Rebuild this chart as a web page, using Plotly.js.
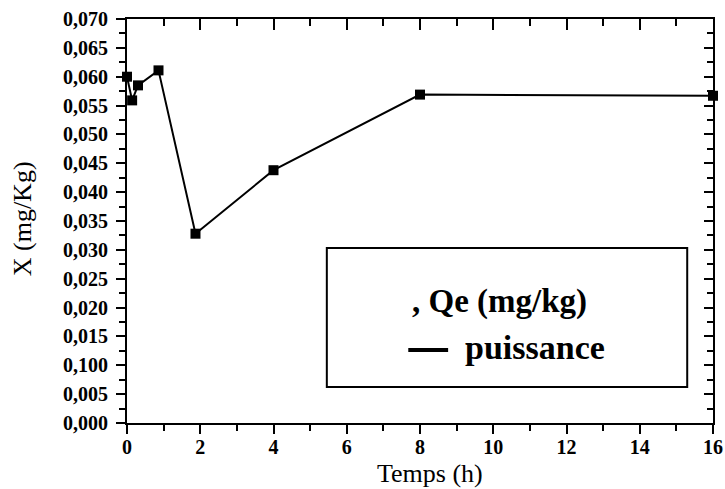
<!DOCTYPE html>
<html>
<head>
<meta charset="utf-8">
<script src="https://cdn.plot.ly/plotly-3.0.1.min.js"></script>
<style>html,body{margin:0;padding:0;background:#fff;}#chart{width:725px;height:489px;}</style>
</head>
<body>
<div id="chart"></div>
<script>
// Data
const temps = [0, 0.14, 0.30, 0.86, 1.87, 4, 8, 16];
const xValues = [0.0600, 0.0559, 0.0585, 0.0611, 0.0328, 0.0438, 0.0569, 0.0567];
const yTickVals = [0, 0.005, 0.010, 0.015, 0.020, 0.025, 0.030, 0.035, 0.040, 0.045, 0.050, 0.055, 0.060, 0.065, 0.070];
const yTickText = ["0,000", "0,005", "0,100", "0,015", "0,020", "0,025", "0,030", "0,035", "0,040", "0,045", "0,050", "0,055", "0,060", "0,065", "0,070"];
const xTickVals = [0, 2, 4, 6, 8, 10, 12, 14, 16];
const xTitle = "Temps (h)";
const yTitle = "X (mg/Kg)";
const legendLine1 = ", Qe (mg/kg)";
const legendLine2 = "puissance";

const serif = "Liberation Serif, Times New Roman, serif";
const tickFont = {family: serif, size: 20, color: "#000", weight: "bold"};

const traces = [
  {
    x: temps, y: xValues, type: "scatter", mode: "lines+markers",
    line: {color: "#000", width: 2},
    marker: {symbol: "square", size: 10, color: "#000"},
    cliponaxis: false, showlegend: false, xaxis: "x", yaxis: "y"
  },
  {
    x: temps, y: xValues, type: "scatter", mode: "markers",
    marker: {opacity: 0, size: 1}, hoverinfo: "skip",
    showlegend: false, xaxis: "x2", yaxis: "y2"
  }
];

const layout = {
  width: 725, height: 489,
  margin: {l: 127, r: 12, t: 19, b: 66},
  paper_bgcolor: "#fff", plot_bgcolor: "#fff",
  showlegend: false,
  xaxis: {
    range: [0, 16], tickmode: "array", tickvals: xTickVals,
    ticktext: xTickVals.map(String),
    ticks: "outside", ticklen: 9, tickwidth: 2, tickcolor: "#000",
    minor: {tickmode: "linear", tick0: 0, dtick: 1, ticks: "outside", ticklen: 6, tickwidth: 2, tickcolor: "#000"},
    showline: true, linecolor: "#000", linewidth: 2,
    showgrid: false, zeroline: false,
    tickfont: tickFont, ticklabelstandoff: -4
  },
  yaxis: {
    range: [0, 0.07], tickmode: "array", tickvals: yTickVals, ticktext: yTickText,
    ticks: "outside", ticklen: 9, tickwidth: 2, tickcolor: "#000",
    minor: {tickmode: "linear", tick0: 0, dtick: 0.0025, ticks: "outside", ticklen: 6, tickwidth: 2, tickcolor: "#000"},
    showline: true, linecolor: "#000", linewidth: 2,
    showgrid: false, zeroline: false,
    tickfont: tickFont, ticklabelstandoff: 4
  },
  xaxis2: {
    overlaying: "x", side: "top", anchor: "y", range: [0, 16],
    tickmode: "linear", tick0: 0, dtick: 2,
    ticks: "inside", ticklen: 11, tickwidth: 2, tickcolor: "#000",
    minor: {tickmode: "linear", tick0: 0, dtick: 1, ticks: "inside", ticklen: 7, tickwidth: 2, tickcolor: "#000"},
    showticklabels: false, showline: true, linecolor: "#000", linewidth: 2,
    showgrid: false, zeroline: false
  },
  yaxis2: {
    overlaying: "y", side: "right", anchor: "x", range: [0, 0.07],
    tickmode: "linear", tick0: 0, dtick: 0.005,
    ticks: "inside", ticklen: 9, tickwidth: 2, tickcolor: "#000",
    minor: {tickmode: "linear", tick0: 0, dtick: 0.0025, ticks: "inside", ticklen: 6, tickwidth: 2, tickcolor: "#000"},
    showticklabels: false, showline: true, linecolor: "#000", linewidth: 2,
    showgrid: false, zeroline: false
  },
  shapes: [
    {type: "rect", xref: "paper", yref: "paper", x0: 0.341, x1: 0.956, y0: 0.089, y1: 0.433,
     line: {color: "#000", width: 2}, fillcolor: "#fff", layer: "above"},
    {type: "line", xref: "paper", yref: "paper", x0: 0.480, x1: 0.548, y0: 0.181, y1: 0.181,
     line: {color: "#000", width: 4}, layer: "above"}
  ],
  annotations: [
    {xref: "paper", yref: "paper", x: 0.517, y: -0.083, xanchor: "center", yanchor: "top",
     text: xTitle, showarrow: false, font: {family: serif, size: 26, color: "#000"}},
    {xref: "paper", yref: "paper", x: -0.177, y: 0.505, xanchor: "center", yanchor: "middle",
     textangle: -90, text: yTitle, showarrow: false, font: {family: serif, size: 26, color: "#000"}},
    {xref: "paper", yref: "paper", x: 0.635, y: 0.300, xanchor: "center", yanchor: "middle",
     text: legendLine1, showarrow: false, font: {family: serif, size: 33, color: "#000", weight: "bold"}},
    {xref: "paper", yref: "paper", x: 0.573, y: 0.186, xanchor: "left", yanchor: "middle",
     text: legendLine2, showarrow: false, font: {family: serif, size: 34, color: "#000", weight: "bold"}}
  ]
};

Plotly.newPlot("chart", traces, layout, {displayModeBar: false, staticPlot: true});
</script>
</body>
</html>
